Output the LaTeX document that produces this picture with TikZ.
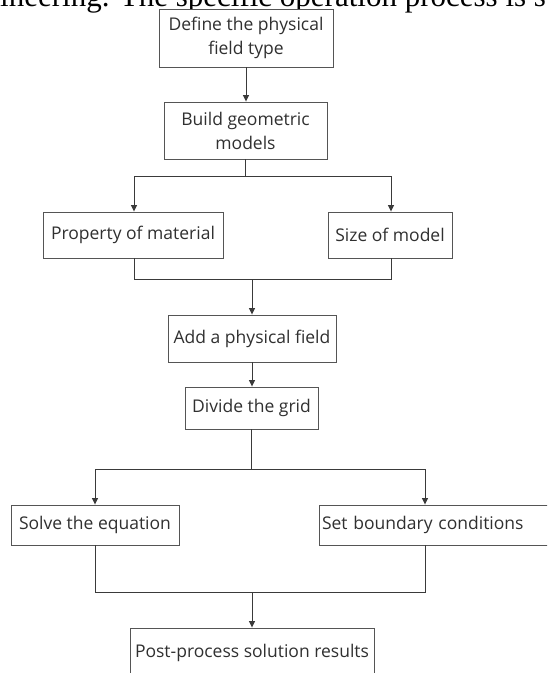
\documentclass[tikz,border=0pt]{standalone}
\usepackage{fontspec}
\setmainfont{Liberation Serif}
\newfontfamily\diagfont{Open Sans}
\usetikzlibrary{arrows.meta}
\definecolor{linecol}{HTML}{3A3A3A}
\definecolor{boxcol}{HTML}{555555}
\definecolor{txtcol}{HTML}{303030}
\begin{document}
\begin{tikzpicture}[x=1pt,y=-1pt,
  stepbox/.style={draw=boxcol,line width=0.9pt,fill=white,inner sep=0pt,align=center,
    text=txtcol,font=\diagfont\fontsize{17.5}{24}\selectfont},
  conn/.style={draw=linecol,line width=0.9pt},
  arr/.style={conn,-{Triangle[length=6.5pt,width=6pt]}}]
\useasboundingbox (0,0) rectangle (547,673);
\clip (0,0) rectangle (547,673);
\fill[white] (0,0) rectangle (547,673);
% cut-off body text above the chart
\node[anchor=base west,inner sep=0pt,font=\fontsize{31}{31}\selectfont] (bodytext) at (0,6) {ineering. The specific operation process is s};
% boxes
\node[stepbox,minimum width=174pt,minimum height=58pt] (b1) at (246,38) {Define the physical\\field type};
\node[stepbox,minimum width=163pt,minimum height=57pt] (b2) at (245.5,130.5) {Build geometric\\models};
\node[stepbox,minimum width=180pt,minimum height=46pt] (b3) at (133,235) {Property of material};
\node[stepbox,minimum width=124pt,minimum height=46pt] (b4) at (390,235) {Size of model};
\node[stepbox,minimum width=168pt,minimum height=47pt] (b5) at (252,338.5) {Add a physical field};
\node[stepbox,minimum width=133pt,minimum height=42pt] (b6) at (251.5,408) {Divide the grid};
\node[stepbox,minimum width=168pt,minimum height=40pt] (b7) at (95,525) {Solve the equation};
\node[stepbox,minimum width=241pt,minimum height=40pt,text width=235pt,align=left] (b8) at (439.5,525) {Set boundary conditions};
\node[stepbox,minimum width=244pt,minimum height=50pt] (b9) at (252,653) {Post-process solution results};
% junctions
\coordinate (j1) at (245.5,176);
\coordinate (j1l) at (134,176);
\coordinate (j1r) at (391,176);
\coordinate (j2l) at (134,279);
\coordinate (j2r) at (391,279);
\coordinate (j2) at (252,279);
\coordinate (j3) at (251.5,469);
\coordinate (j3l) at (95,469);
\coordinate (j3r) at (425,469);
\coordinate (j4l) at (95,592);
\coordinate (j4r) at (425,592);
\coordinate (j4) at (252,592);
% connectors
\draw[arr] (b1.south) -- (b1.south |- b2.north);
\draw[conn] (b2.south) -- (j1);
\draw[conn] (j1l) -- (j1r);
\draw[arr] (j1l) -- (j1l |- b3.north);
\draw[arr] (j1r) -- (j1r |- b4.north);
\draw[conn] (j2l |- b3.south) -- (j2l) -- (j2r) -- (j2r |- b4.south);
\draw[arr] (j2) -- (b5.north);
\draw[arr] (b5.south) -- (b5.south |- b6.north);
\draw[conn] (b6.south) -- (j3);
\draw[conn] (j3l) -- (j3r);
\draw[arr] (j3l) -- (j3l |- b7.north);
\draw[arr] (j3r) -- (j3r |- b8.north);
\draw[conn] (j4l |- b7.south) -- (j4l) -- (j4r) -- (j4r |- b8.south);
\draw[arr] (j4) -- (b9.north);
\end{tikzpicture}
\end{document}
